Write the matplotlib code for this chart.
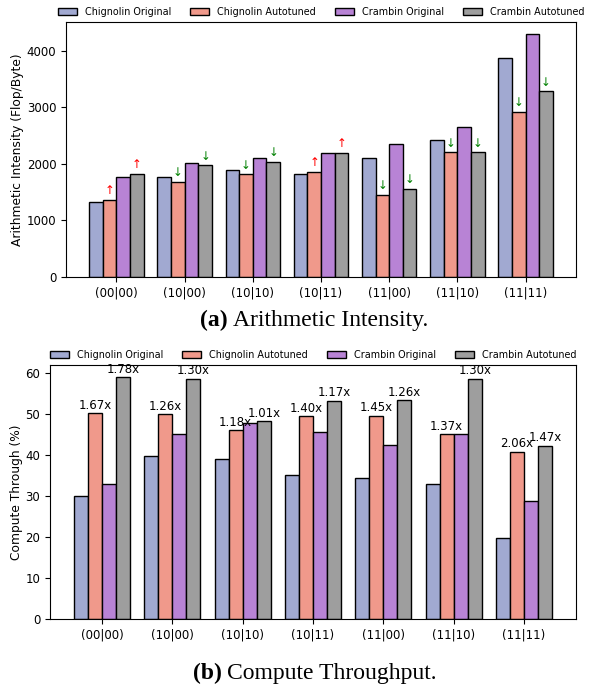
import matplotlib
matplotlib.use("Agg")
import matplotlib.pyplot as plt
import numpy as np

categories = ["(00|00)", "(10|00)", "(10|10)", "(10|11)", "(11|00)", "(11|10)", "(11|11)"]
series_names = ["Chignolin Original", "Chignolin Autotuned", "Crambin Original", "Crambin Autotuned"]

# (a) Arithmetic intensity (Flop/Byte)
ai_chig_orig = [1331, 1769, 1888, 1828, 2101, 2426, 3876]
ai_chig_auto = [1367, 1686, 1811, 1852, 1444, 2201, 2923]
ai_cram_orig = [1775, 2018, 2101, 2183, 2355, 2651, 4290]
ai_cram_auto = [1817, 1970, 2030, 2195, 1550, 2201, 3278]

# (b) Compute throughput (%)
ct_chig_orig = [30.1, 39.8, 39.0, 35.3, 34.4, 32.9, 19.9]
ct_chig_auto = [50.3, 50.1, 46.1, 49.5, 49.7, 45.2, 40.9]
ct_cram_orig = [33.1, 45.1, 47.8, 45.7, 42.5, 45.1, 28.8]
ct_cram_auto = [59.1, 58.7, 48.4, 53.3, 53.5, 58.7, 42.3]

chig_speedup = ["1.67x", "1.26x", "1.18x", "1.40x", "1.45x", "1.37x", "2.06x"]
cram_speedup = ["1.78x", "1.30x", "1.01x", "1.17x", "1.26x", "1.30x", "1.47x"]

colors = ["#A1A9D1", "#F0998B", "#B883D5", "#9E9E9E"]

fig = plt.figure(figsize=(5.9, 6.87), dpi=100)
ax1 = fig.add_axes([66/590, (687-277)/687, 510/590, 255/687])
ax2 = fig.add_axes([50/590, (687-619)/687, 526/590, 254/687])

x = np.arange(len(categories))
w = 0.2

def draw(ax, data):
    bars = []
    for i, (vals, c, name) in enumerate(zip(data, colors, series_names)):
        b = ax.bar(x + (i - 1.5) * w, vals, w, color=c, edgecolor="black",
                   linewidth=1.0, label=name)
        bars.append(b)
    ax.set_xticks(x)
    ax.set_xticklabels(categories, fontsize=8.5)
    ax.tick_params(axis="y", labelsize=8.5)
    ax.legend(loc="lower center", bbox_to_anchor=(0.5, 1.0), ncol=4, frameon=False,
              fontsize=6.9, borderaxespad=0.15)
    return bars

ai = [ai_chig_orig, ai_chig_auto, ai_cram_orig, ai_cram_auto]
bars1 = draw(ax1, ai)
ax1.set_ylim(0, max(max(s) for s in ai) * 1.05)
ax1.set_yticks([0, 1000, 2000, 3000, 4000])
ax1.set_ylabel("Arithmetic Intensity (Flop/Byte)", fontsize=8.8, labelpad=2)

for orig, auto, bidx in [(ai_chig_orig, ai_chig_auto, 1), (ai_cram_orig, ai_cram_auto, 3)]:
    for j in range(len(categories)):
        up = auto[j] > orig[j]
        ax1.annotate("\u2191" if up else "\u2193",
                     (x[j] + (bidx - 1.5) * w, auto[j]), xytext=(0, 2),
                     textcoords="offset points", ha="center", va="bottom",
                     fontsize=8.5, color="red" if up else "green")

ct = [ct_chig_orig, ct_chig_auto, ct_cram_orig, ct_cram_auto]
bars2 = draw(ax2, ct)
ax2.set_ylim(0, max(max(s) for s in ct) * 1.05)
ax2.set_yticks([0, 10, 20, 30, 40, 50, 60])
ax2.set_ylabel("Compute Through (%)", fontsize=8.8, labelpad=2)

for vals, labels, bidx in [(ct_chig_auto, chig_speedup, 1), (ct_cram_auto, cram_speedup, 3)]:
    for j in range(len(categories)):
        ax2.annotate(labels[j], (x[j] + (bidx - 1.5) * w, vals[j]), xytext=(0, 1),
                     textcoords="offset points", ha="center", va="bottom",
                     fontsize=8.5, annotation_clip=False)

serif = "Liberation Serif"
fig.text(228/590, 1 - 320/687, "(a)", ha="right", va="center", fontsize=17,
         fontweight="bold", family=serif)
fig.text(233/590, 1 - 320/687, "Arithmetic Intensity.", ha="left", va="center",
         fontsize=17, family=serif)
fig.text(222/590, 1 - 673/687, "(b)", ha="right", va="center", fontsize=17,
         fontweight="bold", family=serif)
fig.text(227/590, 1 - 673/687, "Compute Throughput.", ha="left", va="center",
         fontsize=17, family=serif)

fig.savefig("out.png", dpi=100)
